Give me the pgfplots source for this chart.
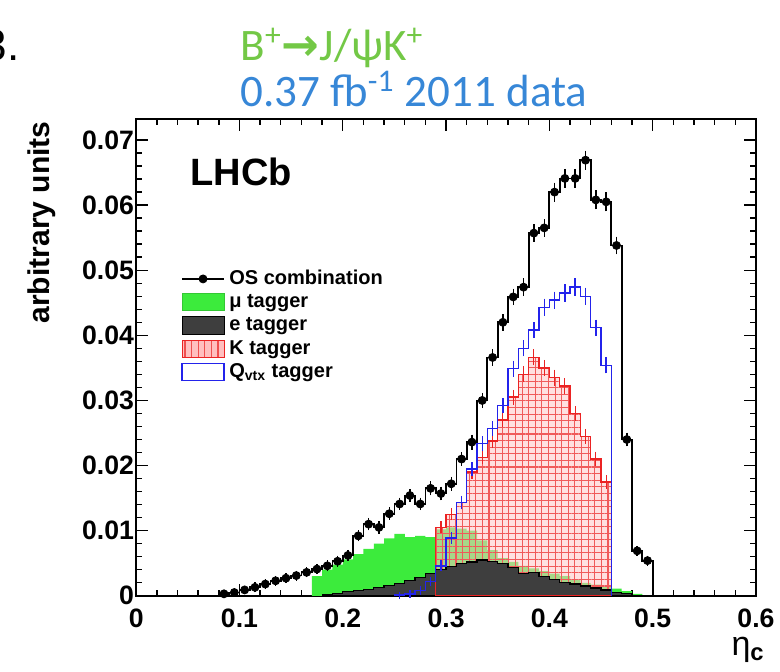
\documentclass[border=0pt]{standalone}
\usepackage{pgfplots}
\pgfplotsset{compat=1.18}
\usepackage{pgfplotstable}
\usepackage{fontspec}
\setmainfont{Liberation Sans}
\newfontfamily\carlito{Carlito}
\newfontfamily\dejavu{DejaVu Sans}
\usetikzlibrary{patterns.meta}

\definecolor{mugreen}{RGB}{60,235,60}
\definecolor{edark}{RGB}{62,62,62}
\definecolor{kred}{RGB}{235,35,35}
\definecolor{qblue}{RGB}{35,35,235}
\definecolor{titlegreen}{RGB}{115,200,70}
\definecolor{titleblue}{RGB}{55,135,215}

% OS combination: left bin edge, value, error
\pgfplotstableread{
lo y err
0.08 0.0003 0.0002
0.09 0.0005 0.0002
0.10 0.0009 0.0002
0.11 0.0013 0.0003
0.12 0.0018 0.0003
0.13 0.0023 0.0003
0.14 0.0027 0.0003
0.15 0.0031 0.0003
0.16 0.0036 0.0003
0.17 0.0041 0.0003
0.18 0.0046 0.0004
0.19 0.0053 0.0004
0.20 0.0062 0.0004
0.21 0.0092 0.0004
0.22 0.0110 0.0005
0.23 0.0105 0.0005
0.24 0.0126 0.0005
0.25 0.0141 0.0005
0.26 0.0154 0.0005
0.27 0.0141 0.0005
0.28 0.0165 0.0006
0.29 0.0157 0.0006
0.30 0.0172 0.0006
0.31 0.0210 0.0006
0.32 0.0236 0.0007
0.33 0.0300 0.0007
0.34 0.0366 0.0008
0.35 0.0420 0.0008
0.36 0.0459 0.0008
0.37 0.0474 0.0009
0.38 0.0557 0.0009
0.39 0.0565 0.0009
0.40 0.0620 0.0010
0.41 0.0641 0.0010
0.42 0.0641 0.0010
0.43 0.0669 0.0010
0.44 0.0608 0.0010
0.45 0.0605 0.0010
0.46 0.0538 0.0009
0.47 0.0240 0.0006
0.48 0.0069 0.0003
0.49 0.0054 0.0003
0.50 0 0
}\ostable

\pgfplotstableread{
lo y err
0.25 0.0001 0.0001
0.26 0.0003 0.0002
0.27 0.0008 0.0002
0.28 0.0022 0.0003
0.29 0.0046 0.0004
0.30 0.0089 0.0005
0.31 0.0143 0.0006
0.32 0.0195 0.0006
0.33 0.0234 0.0007
0.34 0.0257 0.0007
0.35 0.0292 0.0007
0.36 0.0349 0.0008
0.37 0.0380 0.0008
0.38 0.0408 0.0008
0.39 0.0443 0.0009
0.40 0.0454 0.0009
0.41 0.0465 0.0009
0.42 0.0474 0.0009
0.43 0.0460 0.0009
0.44 0.0412 0.0008
0.45 0.0354 0.0008
0.46 0 0
}\qtable

\pgfplotstableread{
lo y err
0.29 0.0105 0.0005
0.30 0.0125 0.0005
0.31 0.0143 0.0006
0.32 0.0190 0.0006
0.33 0.0212 0.0006
0.34 0.0238 0.0007
0.35 0.0270 0.0007
0.36 0.0305 0.0007
0.37 0.0340 0.0008
0.38 0.0366 0.0008
0.39 0.0350 0.0008
0.40 0.0335 0.0008
0.41 0.0322 0.0008
0.42 0.0280 0.0007
0.43 0.0245 0.0007
0.44 0.0210 0.0007
0.45 0.0175 0.0006
0.46 0 0
}\ktable

\pgfplotstableread{
lo y
0.17 0.0030
0.18 0.0040
0.19 0.0048
0.20 0.0056
0.21 0.0064
0.22 0.0072
0.23 0.0080
0.24 0.0088
0.25 0.0095
0.26 0.0090
0.27 0.0092
0.28 0.0090
0.29 0.0102
0.30 0.0105
0.31 0.0103
0.32 0.0100
0.33 0.0085
0.34 0.0070
0.35 0.0058
0.36 0.0052
0.37 0.0046
0.38 0.0042
0.39 0.0038
0.40 0.0034
0.41 0.0030
0.42 0.0025
0.43 0.0020
0.44 0.0017
0.45 0.0014
0.46 0.0011
0.47 0.0007
0.48 0.0003
0.49 0
}\mutable

\pgfplotstableread{
lo y
0.18 0.0002
0.19 0.0004
0.20 0.0006
0.21 0.0008
0.22 0.0010
0.23 0.0013
0.24 0.0016
0.25 0.0019
0.26 0.0024
0.27 0.0028
0.28 0.0034
0.29 0.0040
0.30 0.0045
0.31 0.0049
0.32 0.0052
0.33 0.0055
0.34 0.0053
0.35 0.0049
0.36 0.0044
0.37 0.0034
0.38 0.0036
0.39 0.0029
0.40 0.0025
0.41 0.0021
0.42 0.0018
0.43 0.0015
0.44 0.0012
0.45 0.0009
0.46 0.0005
0.47 0.0003
0.48 0.0001
0.49 0
}\etable

\begin{document}
\begin{tikzpicture}
\begin{axis}[
  scale only axis, width=309.5pt, height=238pt,
  xmin=0, xmax=0.6, ymin=0, ymax=0.0732,
  scaled x ticks=false, scaled y ticks=false,
  xtick={0,0.1,0.2,0.3,0.4,0.5,0.6},
  xticklabels={0,0.1,0.2,0.3,0.4,0.5,0.6},
  ytick={0,0.01,0.02,0.03,0.04,0.05,0.06,0.07},
  yticklabels={0,0.01,0.02,0.03,0.04,0.05,0.06,0.07},
  minor x tick num=4, minor y tick num=4,
  tick align=inside, tick pos=both,
  major tick length=6pt, minor tick length=3pt,
  axis line style={line width=1pt},
  every tick/.style={line width=0.7pt, black},
  /pgf/number format/assume math mode=true,
  tick label style={font=\bfseries\fontsize{13.3}{15}\selectfont},
  xticklabel style={yshift=-3pt},
  yticklabel style={xshift=2.4pt},
  ylabel={arbitrary units},
  ylabel style={font=\bfseries\fontsize{15}{17}\selectfont,
    at={(axis description cs:-0.152,1.01)}, anchor=east},
  xlabel={\fontsize{17}{19}\selectfont η\textsubscript{\bfseries c}},
  xlabel style={at={(axis description cs:1.018,-0.082)}, anchor=north east, inner sep=1pt},
  clip=false,
  legend style={draw=none, fill=none,
    at={(axis description cs:0.072,0.69)}, anchor=north west,
    font=\bfseries\fontsize{10}{12}\selectfont,
    row sep=0pt, inner sep=0pt,
    cells={anchor=west},
    nodes={inner ysep=0.5pt, inner xsep=2.2pt, text height=8pt, text depth=2.6pt}},
  legend cell align=left,
]
% legend entries
\addlegendimage{legend image code/.code={
  \draw[black, line width=0.8pt] (0pt,0pt) -- (21pt,0pt);
  \fill[black] (10.5pt,0pt) circle (2pt);}}
\addlegendentry{OS combination}
\addlegendimage{legend image code/.code={
  \draw[fill=mugreen, draw=mugreen!85!black, line width=0.4pt] (0pt,-4.3pt) rectangle (21pt,4.3pt);}}
\addlegendentry{μ tagger}
\addlegendimage{legend image code/.code={
  \draw[fill=edark, draw=black, line width=0.4pt] (0pt,-4.3pt) rectangle (21pt,4.3pt);}}
\addlegendentry{e tagger}
\addlegendimage{legend image code/.code={
  \fill[red!25] (0pt,-4.3pt) rectangle (21pt,4.3pt);
  \fill[pattern={Lines[angle=90,distance=3.3pt,line width=0.6pt]}, pattern color=kred!80] (0pt,-4.3pt) rectangle (21pt,4.3pt);
  \draw[kred, line width=0.5pt] (0pt,-4.3pt) rectangle (21pt,4.3pt);}}
\addlegendentry{K tagger}
\addlegendimage{legend image code/.code={
  \draw[qblue, line width=0.6pt, fill=white] (0pt,-4.3pt) rectangle (21pt,4.3pt);}}
\addlegendentry{Q\textsubscript{vtx} tagger}

% mu tagger (green filled)
\addplot[const plot, draw=none, fill=mugreen, forget plot] table[x=lo, y=y] {\mutable} \closedcycle;
% K tagger (red grid hatch)
\addplot[const plot, draw=none, fill=red!22, fill opacity=0.55, forget plot] table[x=lo, y=y] {\ktable} \closedcycle;
\addplot[const plot, draw=none, pattern={Hatch[angle=0,distance=3.3pt,line width=0.55pt]}, pattern color=kred!75, forget plot] table[x=lo, y=y] {\ktable} \closedcycle;
% e tagger (dark filled)
\addplot[const plot, draw=black, line width=0.6pt, fill=edark, forget plot] table[x=lo, y=y] {\etable} \closedcycle;
% K tagger outline and error bars
\addplot[const plot, draw=kred, line width=0.7pt, forget plot] table[x=lo, y=y] {\ktable} \closedcycle;
\addplot[draw=none, mark=none, forget plot,
  skip coords between index={17}{18},
  error bars/.cd, y dir=both, y explicit,
  error bar style={draw=kred, line width=0.6pt},
  error mark options={draw=kred, mark size=1.4pt, line width=0.6pt}]
  table[x expr=\thisrow{lo}+0.005, y=y, y error=err] {\ktable};
% Qvtx outline and error bars
\addplot[const plot, draw=qblue, line width=0.7pt, forget plot] table[x=lo, y=y] {\qtable};
\addplot[draw=none, mark=none, forget plot,
  skip coords between index={21}{22},
  error bars/.cd, y dir=both, y explicit,
  error bar style={draw=qblue, line width=0.7pt},
  error mark options={draw=qblue, mark size=1.4pt, line width=0.7pt}]
  table[x expr=\thisrow{lo}+0.005, y=y, y error=err] {\qtable};
% OS combination
\addplot[const plot, draw=black, line width=0.9pt, forget plot] table[x=lo, y=y] {\ostable};
\addplot[only marks, mark=*, mark size=2pt, black, forget plot,
  skip coords between index={42}{43},
  error bars/.cd, y dir=both, y explicit,
  error bar style={black, line width=0.7pt},
  error mark options={black, mark size=1.5pt, line width=0.7pt}]
  table[x expr=\thisrow{lo}+0.005, y=y, y error=err] {\ostable};
\end{axis}
\node[anchor=base west, font=\bfseries\fontsize{19}{21}\selectfont] at (23.5pt,205pt) {LHCb};
\node[anchor=base west, font=\carlito\fontsize{22.5}{25}\selectfont, text=titlegreen, inner sep=0pt] at (52pt,267.5pt)
  {B\textsuperscript{+}{\dejavu\bfseries →}J/ψK\textsuperscript{+}};
\node[anchor=base west, font=\carlito\fontsize{22.5}{25}\selectfont, text=titleblue, inner sep=0pt] at (52pt,244.5pt)
  {0.37 fb\textsuperscript{-1} 2011 data};
\node[anchor=base east, font=\fontsize{22}{24}\selectfont, inner sep=0pt] at (-58pt,267.5pt) {3.};
\pgfresetboundingbox
\path[use as bounding box] (-68pt,-38pt) rectangle (321.5pt,297.5pt);
\end{tikzpicture}
\end{document}
